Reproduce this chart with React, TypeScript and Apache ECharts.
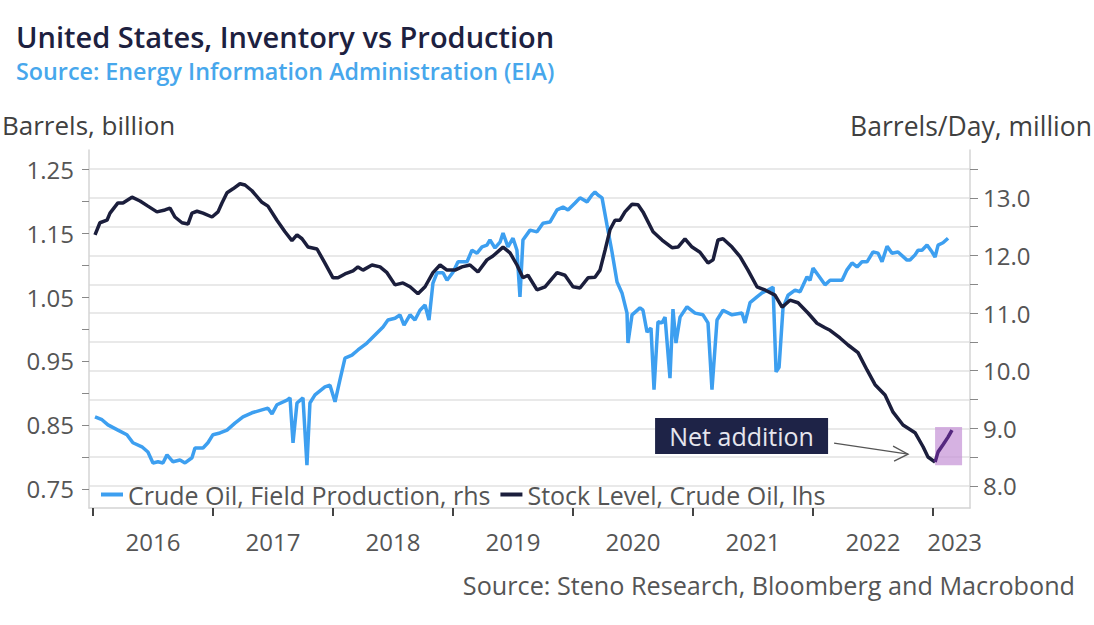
import React, { useEffect, useRef } from "react";
import * as echarts from "echarts";

// ---------- data (decimal years) ----------
const stockYears = [
  2016.017, 2016.058, 2016.117, 2016.142, 2016.208, 2016.25, 2016.325, 2016.392, 2016.458, 2016.533,
  2016.6, 2016.642, 2016.683, 2016.742, 2016.792, 2016.825, 2016.867, 2016.917, 2016.992, 2017.042,
  2017.075, 2017.117, 2017.167, 2017.225, 2017.267, 2017.325, 2017.408, 2017.458, 2017.533, 2017.6,
  2017.658, 2017.7, 2017.742, 2017.792, 2017.867, 2017.933, 2018.0, 2018.042, 2018.1, 2018.167,
  2018.208, 2018.25, 2018.325, 2018.392, 2018.45, 2018.517, 2018.583, 2018.642, 2018.708, 2018.767,
  2018.833, 2018.892, 2018.95, 2019.017, 2019.075, 2019.142, 2019.208, 2019.283, 2019.333, 2019.417,
  2019.475, 2019.533, 2019.583, 2019.625, 2019.7, 2019.767, 2019.867, 2019.933, 2020.0, 2020.058,
  2020.125, 2020.183, 2020.225, 2020.267, 2020.308, 2020.35, 2020.392, 2020.433, 2020.492, 2020.542,
  2020.583, 2020.667, 2020.742, 2020.825, 2020.875, 2020.933, 2020.992, 2021.058, 2021.125, 2021.167,
  2021.208, 2021.25, 2021.325, 2021.392, 2021.458, 2021.533, 2021.6, 2021.683, 2021.742, 2021.808,
  2021.875, 2021.958, 2022.033, 2022.1, 2022.142, 2022.225, 2022.292, 2022.375, 2022.45, 2022.517,
  2022.6, 2022.667, 2022.75, 2022.85, 2022.917, 2022.958, 2023.017, 2023.042, 2023.083, 2023.125,
  2023.158,
];
const stockValues = [
  1.147, 1.166, 1.17, 1.181, 1.197, 1.197, 1.206, 1.2, 1.192, 1.183,
  1.186, 1.189, 1.175, 1.166, 1.164, 1.181, 1.184, 1.181, 1.175, 1.183,
  1.197, 1.213, 1.219, 1.227, 1.225, 1.216, 1.198, 1.192, 1.17, 1.152,
  1.138, 1.147, 1.141, 1.128, 1.125, 1.103, 1.08, 1.08, 1.086, 1.091,
  1.097, 1.092, 1.1, 1.097, 1.088, 1.069, 1.072, 1.066, 1.055, 1.066,
  1.088, 1.1, 1.092, 1.092, 1.097, 1.1, 1.089, 1.108, 1.114, 1.128,
  1.119, 1.1, 1.08, 1.084, 1.061, 1.066, 1.088, 1.084, 1.066, 1.064,
  1.08, 1.081, 1.092, 1.123, 1.155, 1.17, 1.17, 1.183, 1.195, 1.194,
  1.183, 1.152, 1.139, 1.127, 1.128, 1.141, 1.128, 1.12, 1.103, 1.108,
  1.139, 1.141, 1.128, 1.113, 1.092, 1.066, 1.061, 1.053, 1.034, 1.045,
  1.041, 1.025, 1.009, 1.002, 0.998, 0.986, 0.975, 0.963, 0.936, 0.913,
  0.897, 0.87, 0.85, 0.838, 0.816, 0.8, 0.792, 0.808, 0.819, 0.831,
  0.842,
];
const prodYears = [
  2016.017, 2016.075, 2016.125, 2016.208, 2016.283, 2016.333, 2016.408, 2016.458, 2016.5, 2016.542,
  2016.583, 2016.617, 2016.667, 2016.725, 2016.767, 2016.825, 2016.85, 2016.917, 2016.958, 2017.0,
  2017.058, 2017.117, 2017.183, 2017.25, 2017.325, 2017.408, 2017.458, 2017.492, 2017.533, 2017.617,
  2017.642, 2017.667, 2017.7, 2017.75, 2017.783, 2017.808, 2017.85, 2017.933, 2017.975, 2018.017,
  2018.058, 2018.1, 2018.158, 2018.208, 2018.283, 2018.35, 2018.417, 2018.458, 2018.517, 2018.558,
  2018.592, 2018.642, 2018.683, 2018.725, 2018.767, 2018.8, 2018.833, 2018.867, 2018.917, 2018.95,
  2019.0, 2019.042, 2019.117, 2019.158, 2019.2, 2019.242, 2019.283, 2019.308, 2019.35, 2019.392,
  2019.417, 2019.458, 2019.5, 2019.533, 2019.558, 2019.583, 2019.642, 2019.7, 2019.75, 2019.808,
  2019.867, 2019.917, 2019.958, 2020.017, 2020.058, 2020.117, 2020.158, 2020.183, 2020.208, 2020.242,
  2020.283, 2020.325, 2020.367, 2020.408, 2020.45, 2020.458, 2020.492, 2020.558, 2020.583, 2020.617,
  2020.65, 2020.675, 2020.708, 2020.742, 2020.767, 2020.808, 2020.833, 2020.858, 2020.892, 2020.95,
  2021.017, 2021.083, 2021.125, 2021.158, 2021.2, 2021.25, 2021.325, 2021.408, 2021.433, 2021.475,
  2021.533, 2021.575, 2021.625, 2021.667, 2021.692, 2021.717, 2021.75, 2021.792, 2021.85, 2021.892,
  2021.95, 2021.975, 2022.0, 2022.042, 2022.1, 2022.142, 2022.242, 2022.283, 2022.325, 2022.367,
  2022.408, 2022.45, 2022.5, 2022.542, 2022.575, 2022.617, 2022.658, 2022.708, 2022.783, 2022.808,
  2022.85, 2022.875, 2022.908, 2022.95, 2022.992, 2023.017, 2023.042, 2023.083, 2023.125,
];
const prodValues = [
  9.2, 9.15, 9.06, 8.97, 8.89, 8.75, 8.68, 8.59, 8.4, 8.42,
  8.4, 8.54, 8.42, 8.45, 8.4, 8.49, 8.66, 8.66, 8.75, 8.89,
  8.92, 8.97, 9.09, 9.2, 9.27, 9.32, 9.35, 9.25, 9.41, 9.49,
  9.53, 8.75, 9.44, 9.53, 8.36, 9.44, 9.58, 9.72, 9.75, 9.46,
  9.84, 10.22, 10.27, 10.36, 10.48, 10.62, 10.76, 10.88, 10.91, 10.97,
  10.79, 10.97, 10.88, 11.05, 11.14, 10.88, 11.52, 11.7, 11.7, 11.57,
  11.71, 11.89, 11.89, 12.09, 12.04, 12.15, 12.18, 12.27, 12.13, 12.23,
  12.39, 12.15, 12.3, 12.09, 11.28, 12.27, 12.44, 12.41, 12.56, 12.58,
  12.79, 12.84, 12.79, 12.91, 13.0, 12.93, 13.05, 13.1, 13.05, 13.0,
  12.53, 12.06, 11.54, 11.35, 11.0, 10.48, 10.97, 11.09, 11.05, 10.67,
  10.74, 9.67, 10.85, 10.83, 10.93, 9.87, 11.07, 10.48, 10.93, 11.11,
  11.0, 10.97, 10.83, 9.67, 10.88, 11.05, 10.97, 11.0, 10.83, 11.18,
  11.28, 11.35, 11.4, 11.45, 9.98, 10.06, 11.09, 11.31, 11.4, 11.37,
  11.63, 11.57, 11.78, 11.66, 11.49, 11.57, 11.57, 11.75, 11.87, 11.8,
  11.89, 11.89, 12.06, 12.04, 11.89, 12.16, 12.04, 12.06, 11.92, 11.92,
  12.01, 12.09, 12.09, 12.18, 12.06, 11.97, 12.18, 12.22, 12.3,
];

const leftTicks = [0.75, 0.8, 0.85, 0.9, 0.95, 1.0, 1.05, 1.1, 1.15, 1.2, 1.25];
const leftLabels = [0.75, 0.85, 0.95, 1.05, 1.15, 1.25];
const rightTicks = [8, 8.5, 9, 9.5, 10, 10.5, 11, 11.5, 12, 12.5, 13, 13.5];
const rightLabels = [8, 9, 10, 11, 12, 13];
const yearTicks = [2016, 2017, 2018, 2019, 2020, 2021, 2022, 2023];
const yearLabelPositions = [2016.5, 2017.5, 2018.5, 2019.5, 2020.5, 2021.5, 2022.5, 2023.18];
const highlightYears = [2023.017, 2023.242];
const highlightStock = [0.787, 0.847];

const PROD_NAME = "Crude Oil, Field Production, rhs";
const STOCK_NAME = "Stock Level, Crude Oil, lhs";
const FONT = "'Open Sans', 'Noto Sans', sans-serif";

export default function App() {
  const ref = useRef<HTMLDivElement>(null);

  useEffect(() => {
    document.body.style.margin = "0";
    const chart = echarts.init(ref.current!, null, { renderer: "svg" });

    const prodData = prodYears.map((x, i) => [x, prodValues[i]]);
    const stockData = stockYears.map((x, i) => [x, stockValues[i]]);
    let minIdx = 0;
    stockValues.forEach((v, i) => {
      if (v < stockValues[minIdx]) minIdx = i;
    });
    const stockMain = stockData.slice(0, minIdx + 1);
    const stockEnd = stockData.slice(minIdx);

    chart.setOption({
      animation: false,
      textStyle: { fontFamily: FONT },
      title: {
        left: 11,
        top: 17,
        text: "United States, Inventory vs Production",
        textStyle: { fontSize: 29, fontWeight: 600, color: "#1d2140", fontFamily: FONT },
        subtext: "Source: Energy Information Administration (EIA)",
        subtextStyle: { fontSize: 23.3, fontWeight: 600, color: "#47a7ec", fontFamily: FONT },
        itemGap: 8,
      },
      grid: { left: 89, right: 124, top: 150, bottom: 117 },
      legend: {
        left: 96,
        top: 477,
        icon: "rect",
        itemWidth: 22,
        itemHeight: 4,
        itemGap: 10,
        textStyle: { fontSize: 25, color: "#555555", fontFamily: FONT },
        data: [PROD_NAME, STOCK_NAME],
      },
      xAxis: {
        type: "value",
        min: 2015.967,
        max: 2023.308,
        axisLine: { show: true, lineStyle: { color: "#d4d4d4", width: 1.5 } },
        axisTick: {
          show: true,
          customValues: yearTicks,
          length: 8,
          lineStyle: { color: "#444", width: 2 },
        },
        axisLabel: {
          customValues: yearLabelPositions,
          formatter: (v: number) => String(Math.floor(v)),
          fontSize: 24,
          color: "#555555",
          margin: 21,
        },
        splitLine: { show: false },
      },
      yAxis: [
        {
          type: "value",
          position: "left",
          min: 0.7203,
          max: 1.2797,
          axisLine: { show: true, lineStyle: { color: "#d4d4d4", width: 1.5 } },
          axisTick: { show: true, customValues: leftTicks, length: 7, lineStyle: { color: "#888" } },
          axisLabel: {
            customValues: leftLabels,
            formatter: (v: number) => v.toFixed(2),
            fontSize: 24,
            color: "#555555",
            margin: 15,
          },
          splitLine: { show: false },
        },
        {
          type: "value",
          position: "right",
          min: 7.618,
          max: 13.83,
          axisLine: { show: true, lineStyle: { color: "#d4d4d4", width: 1.5 } },
          axisTick: { show: true, customValues: rightTicks, length: 8, lineStyle: { color: "#888" } },
          axisLabel: {
            customValues: rightLabels,
            formatter: (v: number) => v.toFixed(1),
            fontSize: 24,
            color: "#555555",
            margin: 13,
          },
          splitLine: { show: true, lineStyle: { color: "#e2e2e2", width: 1.5 } },
        },
      ],
      series: [
        {
          name: PROD_NAME,
          type: "line",
          yAxisIndex: 1,
          data: prodData,
          showSymbol: false,
          color: "#3d9ff0",
          lineStyle: { color: "#3d9ff0", width: 3.5 },
          z: 3,
        },
        {
          name: STOCK_NAME,
          type: "line",
          yAxisIndex: 0,
          data: stockMain,
          showSymbol: false,
          color: "#1b1e3c",
          lineStyle: { color: "#1b1e3c", width: 3.5 },
          z: 4,
        },
        {
          name: "Net addition",
          type: "line",
          yAxisIndex: 0,
          data: stockEnd,
          showSymbol: false,
          color: "#55287f",
          lineStyle: { color: "#55287f", width: 3.5 },
          z: 5,
          markArea: {
            silent: true,
            itemStyle: { color: "rgba(196, 146, 214, 0.7)" },
            data: [
              [
                { xAxis: highlightYears[0], yAxis: highlightStock[0] },
                { xAxis: highlightYears[1], yAxis: highlightStock[1] },
              ],
            ],
          },
        },
      ],
    });

    // annotation anchored to the minimum of the stock series
    const tip = chart.convertToPixel({ xAxisIndex: 0, yAxisIndex: 0 }, stockData[minIdx]) as number[];
    const tx = tip[0] - 27;
    const ty = tip[1] - 8;
    const sx = tx - 74;
    const sy = ty - 11;
    const boxRight = sx - 6;
    const boxW = 173;
    const boxH = 36;
    const boxTop = sy - 25;

    chart.setOption({
      graphic: [
        {
          type: "text",
          left: 2,
          top: 112,
          style: { text: "Barrels, billion", font: `26px ${FONT}`, fill: "#404040" },
        },
        {
          type: "text",
          right: 2,
          top: 112,
          style: { text: "Barrels/Day, million", font: `26.5px ${FONT}`, fill: "#404040" },
        },
        {
          type: "text",
          right: 19,
          top: 572,
          style: {
            text: "Source: Steno Research, Bloomberg and Macrobond",
            font: `25.2px ${FONT}`,
            fill: "#555555",
          },
        },
        {
          type: "rect",
          shape: { x: boxRight - boxW, y: boxTop, width: boxW, height: boxH },
          style: { fill: "#1e2347" },
          z: 10,
        },
        {
          type: "text",
          x: boxRight - boxW / 2,
          y: boxTop + boxH / 2,
          style: {
            text: "Net addition",
            font: `25px ${FONT}`,
            fill: "#e6e6ee",
            align: "center",
            verticalAlign: "middle",
          },
          z: 11,
        },
        {
          type: "line",
          shape: { x1: sx, y1: sy, x2: tx, y2: ty },
          style: { stroke: "#555", lineWidth: 1.3 },
          z: 10,
        },
        {
          type: "polyline",
          shape: { points: [[tx - 15, ty - 8], [tx, ty], [tx - 14, ty + 7]] },
          style: { stroke: "#555", lineWidth: 1.3, fill: null },
          z: 10,
        },
      ],
    });

    return () => chart.dispose();
  }, []);

  return <div ref={ref} style={{ width: 1094, height: 625 }} />;
}
